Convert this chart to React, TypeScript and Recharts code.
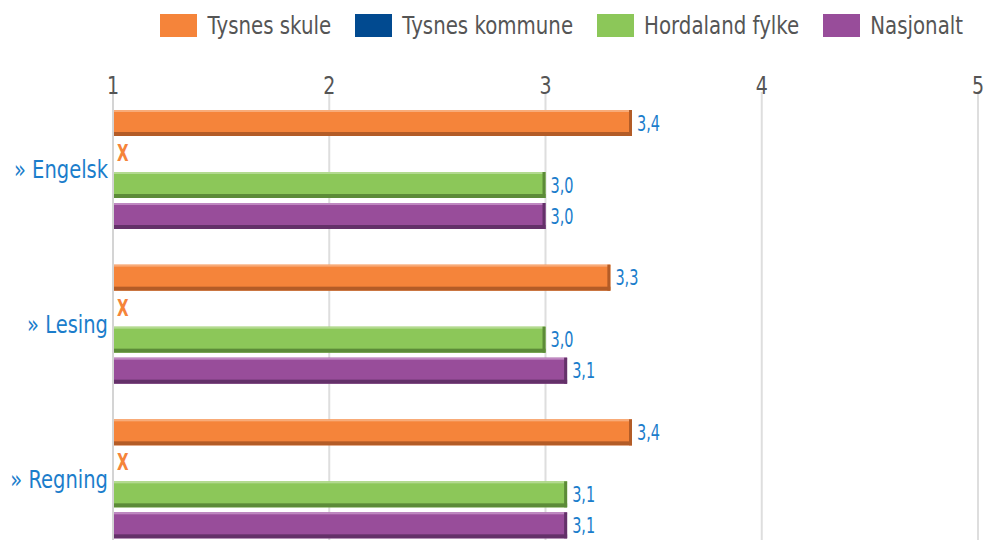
import { BarChart, Bar, XAxis, YAxis, CartesianGrid, LabelList } from "recharts";

const categories = ["» Engelsk", "» Lesing", "» Regning"];
const tysnesSkule = [3.4, 3.3, 3.4];
const tysnesKommune: (number | null)[] = [null, null, null];
const hordalandFylke = [3.0, 3.0, 3.1];
const nasjonalt = [3.0, 3.1, 3.1];
const xTicks = [1, 2, 3, 4, 5];

const FONT = "'DejaVu Sans', Verdana, sans-serif";
const LABEL_BLUE = "#1b7dcb";

const SERIES = [
  { key: "skule", name: "Tysnes skule", color: "#f5843a", dark: "#b35c27", light: "#f8ab78" },
  { key: "kommune", name: "Tysnes kommune", color: "#014a90", dark: "#00305e", light: "#4679b0" },
  { key: "fylke", name: "Hordaland fylke", color: "#8cc759", dark: "#5c8b38", light: "#b3da90" },
  { key: "nasjonalt", name: "Nasjonalt", color: "#984d9a", dark: "#643169", light: "#bf88c1" },
];

const data = categories.map((name, i) => ({
  name,
  skule: tysnesSkule[i],
  kommune: tysnesKommune[i],
  fylke: hordalandFylke[i],
  nasjonalt: nasjonalt[i],
}));

// text in the original is stretched vertically, so scale around the baseline
function Tall({ x, y, sy, children, ...rest }: any) {
  return (
    <text transform={`translate(${x} ${y}) scale(1 ${sy})`} x={0} y={0} fontFamily={FONT} {...rest}>
      {children}
    </text>
  );
}

function makeShape(s: (typeof SERIES)[number]) {
  return (props: any) => {
    const { x, y, width, height, payload } = props;
    if (payload[s.key] == null) {
      // missing value drawn as an orange X
      return (
        <Tall x={x + 4} y={y + height / 2 + 7} sy={1.55} fontSize={15} fontWeight={600} fill="#f5843a">
          X
        </Tall>
      );
    }
    return (
      <g>
        <rect x={x} y={y} width={width} height={height} fill={s.color} />
        <rect x={x} y={y} width={width} height={2} fill={s.light} />
        <rect x={x} y={y + height - 4} width={width} height={4} fill={s.dark} />
        <rect x={x + width - 3} y={y} width={3} height={height} fill={s.dark} />
      </g>
    );
  };
}

const ValueLabel = (props: any) => {
  const { x, y, width, height, value } = props;
  if (value == null) return null;
  return (
    <Tall x={x + width + 5} y={y + height / 2 + 7.5} sy={1.5} fontSize={14.5} fill={LABEL_BLUE}>
      {Number(value).toFixed(1).replace(".", ",")}
    </Tall>
  );
};

const XTick = (props: any) => {
  const { x, y, payload } = props;
  return (
    <Tall x={x} y={y + 2} sy={1.35} fontSize={19} fill="#555" textAnchor="middle">
      {payload.value}
    </Tall>
  );
};

const YTick = (props: any) => {
  const { x, y, payload } = props;
  return (
    <Tall x={x} y={y + 9} sy={1.3} fontSize={19.5} fill={LABEL_BLUE} textAnchor="end">
      {payload.value}
    </Tall>
  );
};

function Legend() {
  return (
    <div
      style={{
        position: "absolute",
        top: 14,
        right: 28,
        display: "flex",
        alignItems: "center",
        fontFamily: FONT,
        fontSize: 19.8,
        color: "#555",
        height: 23,
      }}
    >
      {SERIES.map((s, i) => (
        <div key={s.key} style={{ display: "flex", alignItems: "center", marginLeft: i === 0 ? 0 : 24 }}>
          <span style={{ width: 37, height: 23, background: s.color, display: "inline-block", marginRight: 10 }} />
          <span style={{ display: "inline-block", transform: "scaleY(1.24)", whiteSpace: "nowrap", lineHeight: "23px" }}>
            {s.name}
          </span>
        </div>
      ))}
    </div>
  );
}

export default function App() {
  return (
    <div
      style={{
        position: "absolute",
        left: 0,
        top: 0,
        width: 991,
        height: 540,
        overflow: "hidden",
        background: "#fff",
      }}
    >
      <Legend />
      <BarChart
        width={991}
        height={560}
        data={data}
        layout="vertical"
        margin={{ top: 62, right: 13, left: 0, bottom: 4 }}
        barSize={26}
        barGap={5}
      >
        <CartesianGrid horizontal={false} stroke="#dedede" strokeWidth={2} />
        <XAxis
          type="number"
          orientation="top"
          domain={[1, 5]}
          ticks={xTicks}
          height={30}
          axisLine={false}
          tickLine={false}
          tickSize={0}
          tickMargin={0}
          tick={<XTick />}
          allowDataOverflow
        />
        <YAxis
          type="category"
          dataKey="name"
          width={113}
          axisLine={{ stroke: "#d4d4d4", strokeWidth: 2 }}
          tickLine={false}
          tickSize={0}
          tickMargin={5}
          tick={<YTick />}
        />
        {SERIES.map((s) => (
          <Bar
            key={s.key}
            name={s.name}
            dataKey={(d: any) => d[s.key] ?? xTicks[0]}
            fill={s.color}
            shape={makeShape(s)}
            isAnimationActive={false}
          >
            <LabelList dataKey={s.key} content={<ValueLabel />} />
          </Bar>
        ))}
      </BarChart>
    </div>
  );
}
